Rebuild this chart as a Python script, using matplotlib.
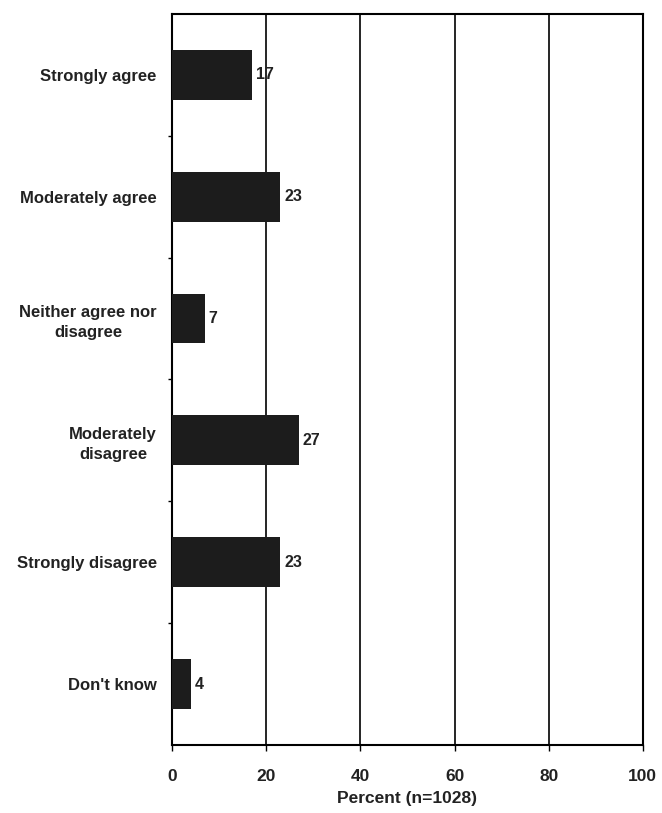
import matplotlib.pyplot as plt
import numpy as np

categories = ['Strongly agree', 'Moderately agree', 'Neither agree nor\ndisagree',
              'Moderately\ndisagree', 'Strongly disagree', "Don't know"]
percent = [17, 23, 7, 27, 23, 4]
xticks = [0, 20, 40, 60, 80, 100]

plt.rcParams['font.family'] = ['Liberation Sans', 'DejaVu Sans']

fig = plt.figure(figsize=(6.62, 8.13), dpi=100)
ax = fig.add_axes([0.26, 0.0836, 0.711, 0.8994])

y = np.arange(len(categories))
ax.barh(y, percent, height=0.41, color='#1c1c1c', zorder=3)
for yi, v in zip(y, percent):
    ax.text(v + 0.8, yi, str(v), va='center', ha='left', fontsize=11.5,
            fontweight='bold', color='#222222', zorder=4)

ax.set_ylim(len(categories) - 0.5, -0.5)
ax.set_xlim(0, 100)
ax.set_yticks(y)
ax.set_yticklabels(categories, fontsize=12, fontweight='bold', color='#222222',
                   ha='right', multialignment='center', linespacing=1.45)
ax.tick_params(axis='y', length=0, pad=11)
ax.set_yticks(np.arange(len(categories) - 1) + 0.5, minor=True)
ax.tick_params(axis='y', which='minor', length=3, width=1)

ax.set_xticks(xticks)
ax.set_xticklabels([str(t) for t in xticks], fontsize=12.5, fontweight='bold', color='#222222')
ax.tick_params(axis='x', length=4, width=1, pad=13)
ax.set_xlabel('Percent (n=1028)', fontsize=12.5, fontweight='bold', color='#222222', labelpad=5)

ax.grid(axis='x', color='black', linewidth=1.2, zorder=1)
for s in ax.spines.values():
    s.set_linewidth(1.5)
    s.set_color('black')

plt.savefig('out.png', dpi=100)
